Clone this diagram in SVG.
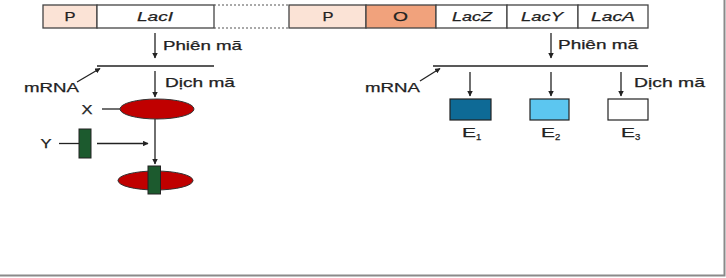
<svg xmlns="http://www.w3.org/2000/svg" width="726" height="278" viewBox="0 0 726 278">
<defs>
<style>
text{font-family:"Liberation Sans",Arial,sans-serif;fill:#222;font-size:13px;stroke:#222;stroke-width:0.25}
.c{text-anchor:middle}
.i{font-style:italic}
.sub{font-size:9.5px}
.box{stroke:#444;stroke-width:1.3}
.ln{stroke:#222;stroke-width:1.3;fill:none}
.ar{stroke:#222;stroke-width:1.3;fill:none;marker-end:url(#ah)}
.frame{stroke:#8a8a8a;stroke-width:2;fill:none}
</style>
<marker id="ah" viewBox="0 0 10 10" refX="9" refY="5" markerWidth="5.5" markerHeight="5.5" orient="auto" markerUnits="userSpaceOnUse">
<path d="M0,0 L10,5 L0,10 z" fill="#222"/>
</marker>
</defs>
<rect width="726" height="278" fill="#fff"/>
<path class="frame" d="M724.5,0 V275.5 H0"/>

<g id="gene-bar">
<rect id="p1" class="box" x="43" y="5" width="54" height="23" fill="#FBE3D6"/>
<text x="64.5" y="21" textLength="11" lengthAdjust="spacingAndGlyphs">P</text>
<rect id="laci" class="box" x="97" y="5" width="117" height="23" fill="#fff"/>
<text class="i" x="137" y="21" textLength="36" lengthAdjust="spacingAndGlyphs">LacI</text>
<line x1="214" y1="5" x2="289" y2="5" stroke="#555" stroke-width="1.2" stroke-dasharray="2,2"/>
<line x1="214" y1="28" x2="289" y2="28" stroke="#555" stroke-width="1.2" stroke-dasharray="2,2"/>
<rect id="p2" class="box" x="289" y="5" width="77" height="23" fill="#FBE3D6"/>
<text x="322.5" y="21" textLength="11" lengthAdjust="spacingAndGlyphs">P</text>
<rect id="o" class="box" x="366" y="5" width="70" height="23" fill="#F1A27C"/>
<text x="393" y="21" textLength="15" lengthAdjust="spacingAndGlyphs">O</text>
<rect id="lacz" class="box" x="436" y="5" width="71" height="23" fill="#fff"/>
<text class="i" x="452" y="21" textLength="40" lengthAdjust="spacingAndGlyphs">LacZ</text>
<rect id="lacy" class="box" x="507" y="5" width="71" height="23" fill="#fff"/>
<text class="i" x="521" y="21" textLength="42" lengthAdjust="spacingAndGlyphs">LacY</text>
<rect id="laca" class="box" x="578" y="5" width="70" height="23" fill="#fff"/>
<text class="i" x="591" y="21" textLength="44" lengthAdjust="spacingAndGlyphs">LacA</text>
</g>

<g id="connectors">
<line class="ar" x1="155" y1="33" x2="155" y2="58"/>
<line class="ln" x1="97" y1="66" x2="214" y2="66"/>
<line class="ar" x1="77" y1="82" x2="100" y2="68.5"/>
<line class="ar" x1="155" y1="71" x2="155" y2="97"/>
<line class="ln" x1="102" y1="109" x2="120" y2="109"/>
<line class="ln" x1="59" y1="143.5" x2="79" y2="143.5"/>
<line class="ar" x1="97" y1="143.5" x2="148" y2="143.5"/>
<line class="ar" x1="155" y1="119" x2="155" y2="164"/>

<line class="ar" x1="551" y1="33" x2="551" y2="58"/>
<line class="ln" x1="433" y1="66" x2="648" y2="66"/>
<line class="ar" x1="420" y1="81" x2="440" y2="68.5"/>
<line class="ar" x1="470" y1="72" x2="470" y2="96"/>
<line class="ar" x1="551" y1="72" x2="551" y2="96"/>
<line class="ar" x1="621" y1="72" x2="621" y2="96"/>
</g>

<g id="labels-left">
<text x="163" y="50" textLength="79" lengthAdjust="spacingAndGlyphs">Phiên mã</text>
<text x="24" y="92" textLength="55" lengthAdjust="spacingAndGlyphs">mRNA</text>
<text x="165" y="87" textLength="70" lengthAdjust="spacingAndGlyphs">Dịch mã</text>
<text x="81.5" y="114" textLength="11" lengthAdjust="spacingAndGlyphs">X</text>
<text x="40.5" y="148" textLength="11" lengthAdjust="spacingAndGlyphs">Y</text>
</g>

<g id="repressor-x">
<ellipse cx="157" cy="109" rx="37" ry="10" fill="#C00000" stroke="#333" stroke-width="1"/>
</g>
<g id="inducer-y">
<rect x="79" y="129" width="12" height="29" fill="#1C5A2E" stroke="#222" stroke-width="1"/>
</g>
<g id="complex">
<ellipse cx="155.5" cy="180.5" rx="37.5" ry="9.5" fill="#C00000" stroke="#333" stroke-width="1"/>
<rect x="148" y="166" width="12.5" height="28" fill="#1C5A2E" stroke="#222" stroke-width="1"/>
</g>

<g id="labels-right">
<text x="558" y="49" textLength="80" lengthAdjust="spacingAndGlyphs">Phiên mã</text>
<text x="365" y="92" textLength="55" lengthAdjust="spacingAndGlyphs">mRNA</text>
<text x="634" y="87" textLength="71" lengthAdjust="spacingAndGlyphs">Dịch mã</text>
</g>

<g id="e1">
<rect x="450" y="99" width="41" height="21" fill="#0E6A96" stroke="#222" stroke-width="1.2"/>
<text x="462" y="137" textLength="14" lengthAdjust="spacingAndGlyphs">E</text><text class="sub" x="476" y="140">1</text>
</g>
<g id="e2">
<rect x="530" y="99" width="39" height="21" fill="#5CC6F0" stroke="#222" stroke-width="1.2"/>
<text x="541" y="137" textLength="14" lengthAdjust="spacingAndGlyphs">E</text><text class="sub" x="555" y="140">2</text>
</g>
<g id="e3">
<rect x="608" y="99" width="40" height="21" fill="#fff" stroke="#222" stroke-width="1.2"/>
<text x="621" y="137" textLength="14" lengthAdjust="spacingAndGlyphs">E</text><text class="sub" x="635" y="140">3</text>
</g>
</svg>
